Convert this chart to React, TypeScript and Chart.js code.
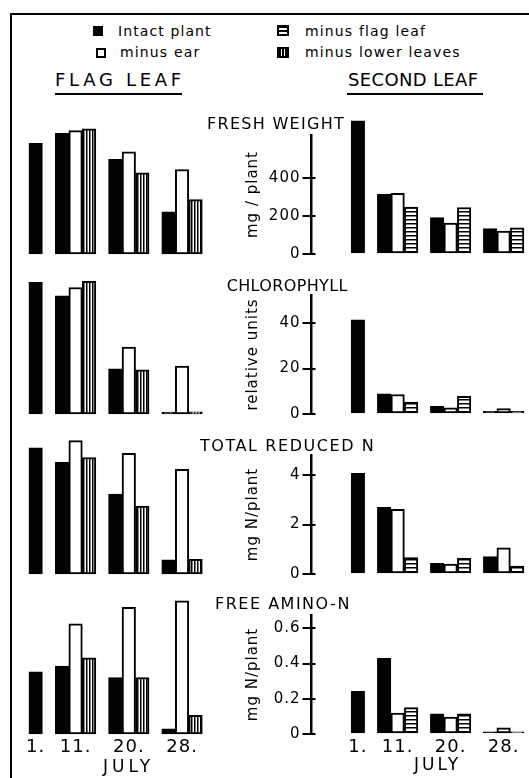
import React, { useEffect, useRef } from 'react';
import { Chart, registerables } from 'chart.js';
Chart.register(...registerables);

// ---------------- DATA ----------------
const days = ['1.', '11.', '20.', '28.'];

// FRESH WEIGHT (mg/plant)
const freshFlagIntact = [581, 634, 497, 221];
const freshFlagMinusEar = [null, 648, 537, 444];
const freshFlagMinusLower = [null, 657, 426, 286];
const freshSecondIntact = [700, 314, 191, 133];
const freshSecondMinusEar = [null, 318, 163, 120];
const freshSecondMinusFlag = [null, 247, 244, 138];
const freshTicks = [0, 200, 400];
const freshTickLabels = ['0', '200', '400'];

// CHLOROPHYLL (relative units)
const chlFlagIntact = [58, 52, 19.9, 0.8];
const chlFlagMinusEar = [null, 55.7, 29.5, 21.1];
const chlFlagMinusLower = [null, 58.4, 19.5, 1.0];
const chlSecondIntact = [41.5, 8.9, 3.4, 1.2];
const chlSecondMinusEar = [null, 8.6, 2.7, 2.4];
const chlSecondMinusFlag = [null, 5.3, 7.8, 1.2];
const chlTicks = [0, 20, 40];
const chlTickLabels = ['0', '20', '40'];

// TOTAL REDUCED N (mg N/plant)
const redFlagIntact = [5.1, 4.51, 3.23, 0.57];
const redFlagMinusEar = [null, 5.39, 4.88, 4.23];
const redFlagMinusLower = [null, 4.71, 2.75, 0.59];
const redSecondIntact = [4.07, 2.69, 0.43, 0.7];
const redSecondMinusEar = [null, 2.61, 0.4, 1.06];
const redSecondMinusFlag = [null, 0.66, 0.63, 0.32];
const redTicks = [0, 2, 4];
const redTickLabels = ['0', '2', '4'];

// FREE AMINO-N (mg N/plant)
const aminoFlagIntact = [0.353, 0.386, 0.321, 0.03];
const aminoFlagMinusEar = [null, 0.626, 0.719, 0.757];
const aminoFlagMinusLower = [null, 0.433, 0.321, 0.106];
const aminoSecondIntact = [0.243, 0.43, 0.115, 0.012];
const aminoSecondMinusEar = [null, 0.119, 0.096, 0.035];
const aminoSecondMinusFlag = [null, 0.15, 0.115, 0.012];
const aminoTicks = [0, 0.2, 0.4, 0.6];
const aminoTickLabels = ['0', '0.2', '0.4', '0.6'];

const seriesNames = ['Intact plant', 'minus ear', 'minus flag leaf', 'minus lower leaves'];

// ---------------- LAYOUT ----------------
const FONT = "'DejaVu Sans', 'Liberation Sans', sans-serif";
const AREA_H = 119;
const PAD_TOP = 20;
const rows = [
  { top: 135, max: 625, title: 'FRESH WEIGHT', tLeft: 207, tTop: 116.4, tLs: 1.3, yTitle: 'mg / plant', ticks: freshTicks, tickLabels: freshTickLabels,
    flag: [freshFlagIntact, freshFlagMinusEar, freshFlagMinusLower], second: [freshSecondIntact, freshSecondMinusEar, freshSecondMinusFlag] },
  { top: 295, max: 52.4, title: 'CHLOROPHYLL', tLeft: 226.7, tTop: 278.1, tLs: 0.36, yTitle: 'relative units', ticks: chlTicks, tickLabels: chlTickLabels,
    flag: [chlFlagIntact, chlFlagMinusEar, chlFlagMinusLower], second: [chlSecondIntact, chlSecondMinusEar, chlSecondMinusFlag] },
  { top: 455, max: 4.81, title: 'TOTAL REDUCED N', tLeft: 200, tTop: 438.1, tLs: 1.57, yTitle: 'mg N/plant', ticks: redTicks, tickLabels: redTickLabels,
    flag: [redFlagIntact, redFlagMinusEar, redFlagMinusLower], second: [redSecondIntact, redSecondMinusEar, redSecondMinusFlag] },
  { top: 615, max: 0.676, title: 'FREE AMINO-N', tLeft: 215, tTop: 596.1, tLs: 1.5, yTitle: 'mg N/plant', ticks: aminoTicks, tickLabels: aminoTickLabels,
    flag: [aminoFlagIntact, aminoFlagMinusEar, aminoFlagMinusLower], second: [aminoSecondIntact, aminoSecondMinusEar, aminoSecondMinusFlag] },
];

const LEFT_SLOTS = [0, 3, 7, 11];
const LEFT_N = 13;
const RIGHT_SLOTS = [3, 6, 10, 14];
const RIGHT_N = 16;

function expand(values: (number | null)[], slots: number[], n: number) {
  const out: (number | null)[] = new Array(n).fill(null);
  values.forEach((v, i) => { out[slots[i]] = v; });
  return out;
}
function labelsFor(slots: number[], n: number) {
  const out: string[] = new Array(n).fill('');
  days.forEach((d, i) => { out[slots[i]] = d; });
  return out;
}

function makePattern(dir: 'h' | 'v') {
  const c = document.createElement('canvas');
  const p = dir === 'h' ? 4 : 3;
  c.width = p; c.height = p;
  const g = c.getContext('2d')!;
  g.fillStyle = '#fff'; g.fillRect(0, 0, p, p);
  g.fillStyle = '#000';
  if (dir === 'h') g.fillRect(0, 0, p, 1.5); else g.fillRect(0, 0, 1.5, p);
  return g.createPattern(c, 'repeat')!;
}

function barDs(label: string, data: (number | null)[], bg: any) {
  return {
    label, data, backgroundColor: bg, borderColor: '#000', borderWidth: 2,
    borderSkipped: false as const, barThickness: 13.5, skipNull: true, clip: false as any,
  };
}

const extrasPlugin = (inner: number) => ({
  id: 'extras',
  beforeUpdate(chart: any) { chart.ctx.letterSpacing = '1px'; },
  afterDraw(chart: any) {
    if (!inner) return;
    const y = chart.scales.y; const ctx = chart.ctx;
    ctx.save(); ctx.strokeStyle = '#000'; ctx.lineWidth = 2;
    y.ticks.forEach((t: any) => {
      const py = Math.round(y.getPixelForValue(t.value));
      ctx.beginPath(); ctx.moveTo(y.right, py); ctx.lineTo(y.right + inner, py); ctx.stroke();
    });
    ctx.restore();
  },
});

type Panel = { side: 'L' | 'R'; row: number; left: number; top: number; w: number; h: number };

function buildPanels(): Panel[] {
  const out: Panel[] = [];
  rows.forEach((r, i) => {
    const last = i === rows.length - 1;
    const h = PAD_TOP + AREA_H + (last ? 36 : 12);
    out.push({ side: 'L', row: i, left: 14, top: r.top - PAD_TOP, w: 202, h });
    out.push({ side: 'R', row: i, left: 244, top: r.top - PAD_TOP, w: 285, h });
  });
  return out;
}
const panels = buildPanels();

function ChartPanel({ p }: { p: Panel }) {
  const ref = useRef<HTMLCanvasElement>(null);
  useEffect(() => {
    const r = rows[p.row];
    const last = p.row === rows.length - 1;
    const isR = p.side === 'R';
    const slots = isR ? RIGHT_SLOTS : LEFT_SLOTS;
    const n = isR ? RIGHT_N : LEFT_N;
    const hPat = makePattern('h');
    const vPat = makePattern('v');
    const src = isR ? r.second : r.flag;
    const datasets = [
      barDs(seriesNames[0], expand(src[0], slots, n), '#000'),
      barDs(seriesNames[1], expand(src[1], slots, n), '#fff'),
      isR ? barDs(seriesNames[2], expand(src[2], slots, n), hPat) : barDs(seriesNames[3], expand(src[2], slots, n), vPat),
    ];
    const chart = new Chart(ref.current!, {
      type: 'bar',
      data: { labels: labelsFor(slots, n), datasets: datasets as any },
      plugins: [extrasPlugin(isR ? 4 : 0) as any],
      options: {
        animation: false,
        responsive: false,
        events: [],
        layout: { padding: { top: PAD_TOP, bottom: last ? 6 : 12, left: isR ? 0 : 15, right: isR ? 5.5 : 14 } },
        plugins: { legend: { display: false }, tooltip: { enabled: false }, title: { display: false } },
        scales: {
          x: {
            type: 'category',
            offset: true,
            display: last,
            grid: { display: false, drawTicks: false },
            border: { display: false },
            ticks: { autoSkip: false, maxRotation: 0, minRotation: 0, padding: 3, color: '#000', font: { family: FONT, size: 18 } },
            afterFit: (s: any) => { if (last) s.height = 30; },
          },
          y: {
            type: 'linear',
            min: 0, max: r.max,
            display: isR,
            afterBuildTicks: (s: any) => { s.ticks = r.ticks.map((v) => ({ value: v })); },
            afterFit: (s: any) => { s.width = isR ? 67.5 : 0; },
            grid: { display: true, drawOnChartArea: false, drawTicks: true, tickLength: 9, color: '#000', lineWidth: 2 },
            border: { display: true, color: '#000', width: 2.5 },
            ticks: {
              padding: 2, color: '#000', font: { family: FONT, size: 15 },
              callback: (_v: any, i: number) => r.tickLabels[i],
            },
            title: { display: true, text: r.yTitle, color: '#000', font: { family: FONT, size: 15 }, padding: { top: 0, bottom: 0 } },
          },
        },
      } as any,
    });
    return () => chart.destroy();
  }, [p]);
  return (
    <canvas ref={ref} width={p.w} height={p.h}
      style={{ position: 'absolute', left: p.left, top: p.top, width: p.w, height: p.h }} />
  );
}

function Txt({ x, y, size, ls, children }: { x: number; y: number; size: number; ls?: number; children: React.ReactNode }) {
  return (
    <div style={{ position: 'absolute', left: x, top: y, fontFamily: FONT, fontSize: size, lineHeight: 1,
      letterSpacing: ls ?? 0, whiteSpace: 'pre', color: '#000' }}>{children}</div>
  );
}

function Icon({ x, y, w, h, kind }: { x: number; y: number; w: number; h: number; kind: number }) {
  const bg = kind === 0 ? '#000' : kind === 1 ? '#fff'
    : kind === 2 ? 'repeating-linear-gradient(to bottom, #000 0 1.5px, #fff 1.5px 3.5px)'
    : 'repeating-linear-gradient(to right, #000 0 1.5px, #fff 1.5px 3px)';
  return <div style={{ position: 'absolute', left: x, top: y, width: w, height: h, boxSizing: 'border-box',
    border: '2px solid #000', background: bg }} />;
}

export default function App() {
  return (
    <div style={{ position: 'absolute', left: 0, top: 0, width: 529, height: 778, background: '#fff', overflow: 'hidden' }}>
      <div style={{ position: 'absolute', left: 10, top: 13, width: 530, height: 800, borderLeft: '2px solid #000', borderTop: '2px solid #000' }} />
      {/* legend */}
      <Icon x={93} y={26} w={10} h={10} kind={0} />
      <Txt x={118} y={23.7} size={14} ls={1.1}>{seriesNames[0]}</Txt>
      <Icon x={277} y={25} w={12} h={11} kind={2} />
      <Txt x={305} y={23.7} size={14} ls={1.15}>{seriesNames[2]}</Txt>
      <Icon x={96} y={48} w={10} h={10} kind={1} />
      <Txt x={120} y={45.2} size={14} ls={1.15}>{seriesNames[1]}</Txt>
      <Icon x={277} y={47} w={12} h={11} kind={3} />
      <Txt x={305} y={45.2} size={14} ls={1.15}>{seriesNames[3]}</Txt>
      {/* column headers */}
      <Txt x={55} y={71.2} size={18} ls={3.7}>FLAG LEAF</Txt>
      <div style={{ position: 'absolute', left: 55, top: 92.5, width: 127, height: 2, background: '#000' }} />
      <Txt x={348} y={71.2} size={18} ls={0.34}>SECOND LEAF</Txt>
      <div style={{ position: 'absolute', left: 347, top: 93, width: 136, height: 2, background: '#000' }} />
      {panels.map((p, i) => <ChartPanel key={i} p={p} />)}
      {rows.map((r, i) => <Txt key={'t' + i} x={r.tLeft} y={r.tTop} size={16} ls={r.tLs}>{r.title}</Txt>)}
      <Txt x={103} y={758} size={17} ls={4}>JULY</Txt>
      <Txt x={414} y={756} size={17} ls={3}>JULY</Txt>
    </div>
  );
}
